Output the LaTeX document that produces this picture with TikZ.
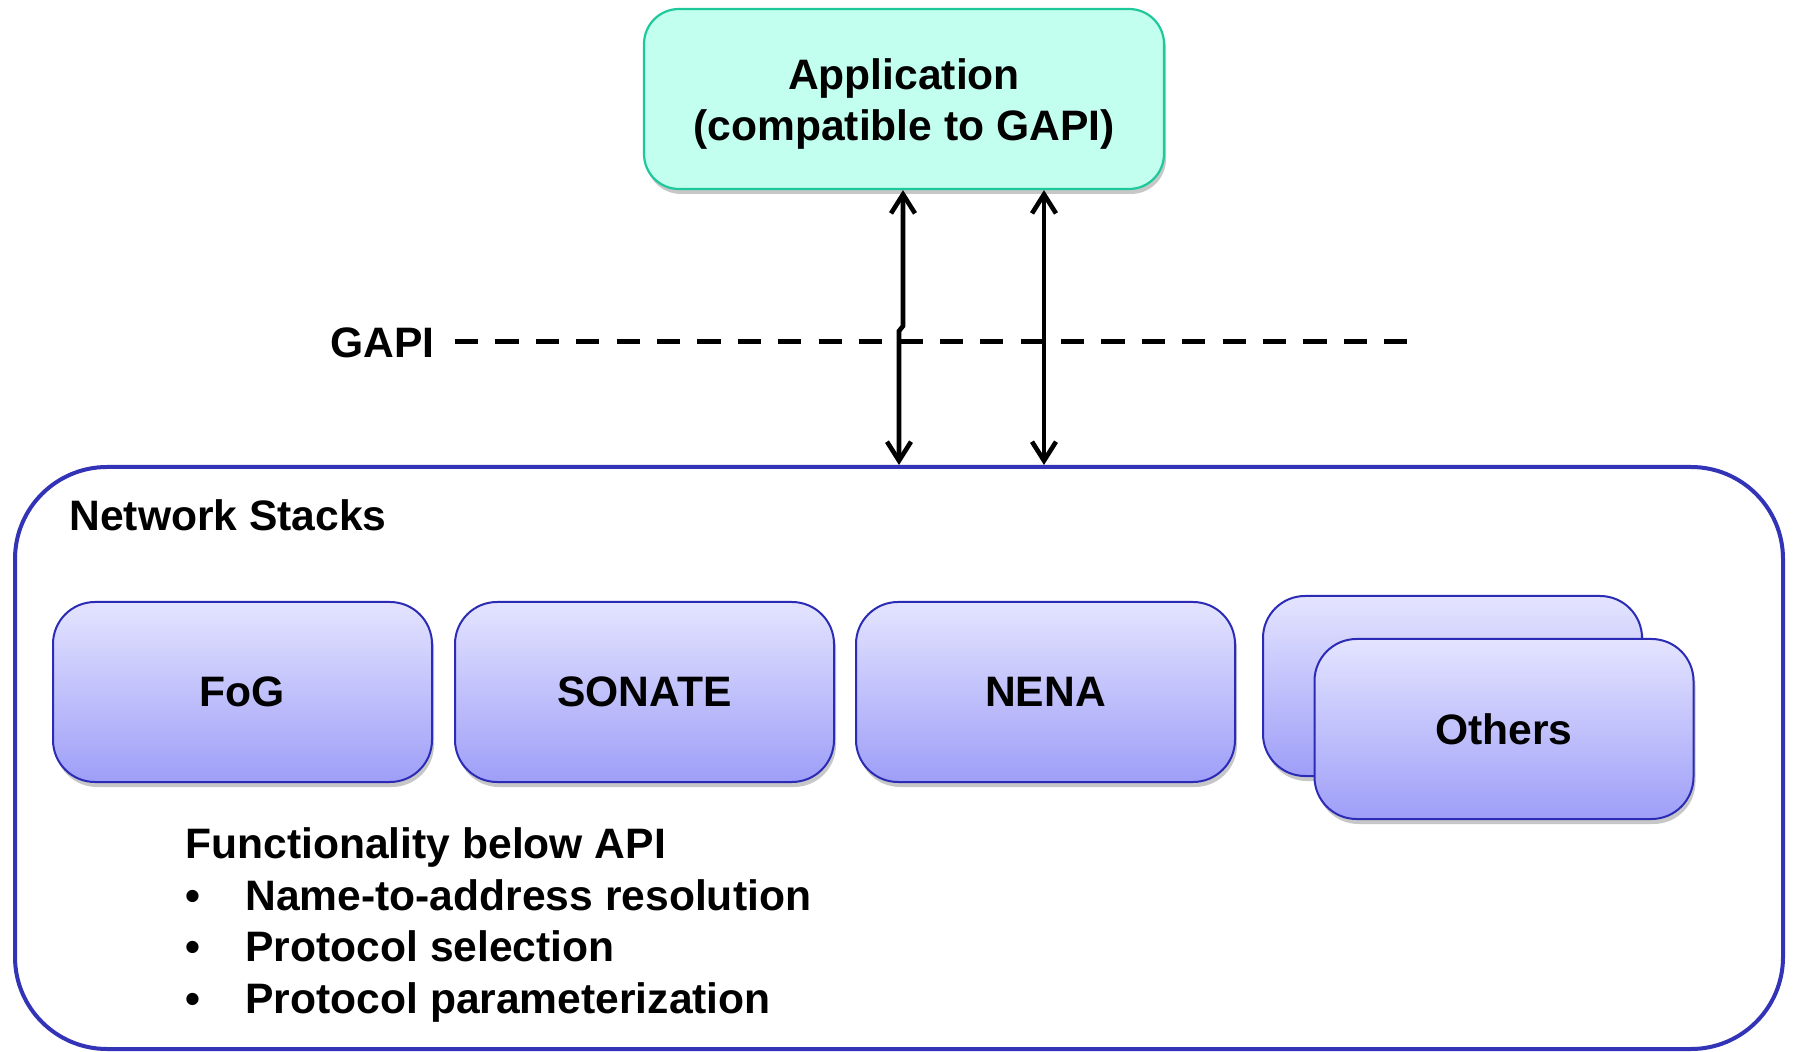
\documentclass[tikz,border=0pt]{standalone}
\usepackage{fontspec}
\setmainfont{Liberation Sans}
\usetikzlibrary{arrows.meta,shadows}
\definecolor{appfill}{HTML}{C2FFEE}
\definecolor{appborder}{HTML}{1DC99B}
\definecolor{boxtop}{HTML}{E4E4FF}
\definecolor{boxbot}{HTML}{9E9EF8}
\definecolor{boxborder}{HTML}{2B2BB5}
\definecolor{contborder}{HTML}{3333B8}
\begin{document}
\begin{tikzpicture}[x=0.5pt,y=-0.5pt,
  every node/.style={font=\fontsize{21.3pt}{25.7pt}\selectfont\bfseries},
  softshadow/.style={drop shadow={shadow xshift=1pt,shadow yshift=-2.5pt,fill=black,opacity=0.22}},
  appbox/.style={draw=appborder,line width=1.1pt,fill=appfill,rounded corners=17.5pt,
    minimum width=260pt,minimum height=90pt,align=center,softshadow},
  stackbox/.style={draw=boxborder,line width=1pt,top color=boxtop,bottom color=boxbot,
    rounded corners=21pt,minimum width=189.5pt,minimum height=90pt,softshadow},
  container/.style={draw=contborder,line width=2pt,rounded corners=46pt,
    minimum width=884pt,minimum height=291pt,inner sep=0pt},
  plain/.style={inner sep=0pt,anchor=base west},
  biarrow/.style={line width=2.3pt,{Straight Barb[length=9.5pt,width=12pt]}-{Straight Barb[length=9.5pt,width=12pt]}},
  dashline/.style={line width=2.5pt,dash pattern=on 11.6pt off 8.6pt}
]
\useasboundingbox (0,0) rectangle (1793,1052);

% container
\node[container] (stacks) at (899,758) {};
\node[plain] (nstitle) at (69,531) {Network Stacks};

% application
\node[appbox] (app) at (904,99) {\rule{0pt}{20.5pt}Application\\(compatible to GAPI)};

% GAPI line
\node[plain] (gapi) at (330,358) {GAPI};
\coordinate (d0) at (455,342);
\coordinate (d1) at (1408,342);
\draw[dashline] (d0) -- (d1);

% arrows
\coordinate (j1) at (903,326);
\coordinate (j2) at (899,331);
\coordinate (x2) at (1044,0);
\draw[biarrow] (app.south -| j1) -- (j1) -- (j2) -- (j2 |- stacks.north);
\draw[biarrow] (app.south -| x2) -- (stacks.north -| x2);

% stack boxes
\node[stackbox] (fog) at (242.5,692) {FoG};
\node[stackbox] (sonate) at (644.5,692) {SONATE};
\node[stackbox] (nena) at (1045.5,692) {NENA};
\node[stackbox] (othersback) at (1452.5,686) {};
\node[stackbox] (others) at (1504,729) {Others};

% functionality text
\node[plain] (func) at (185,858) {Functionality below API};
\node[plain] (b1) at (185,910) {\hbox to 30pt{\textbullet\hfil}Name-to-address resolution};
\node[plain] (b2) at (185,961.5) {\hbox to 30pt{\textbullet\hfil}Protocol selection};
\node[plain] (b3) at (185,1013) {\hbox to 30pt{\textbullet\hfil}Protocol parameterization};
\end{tikzpicture}
\end{document}
